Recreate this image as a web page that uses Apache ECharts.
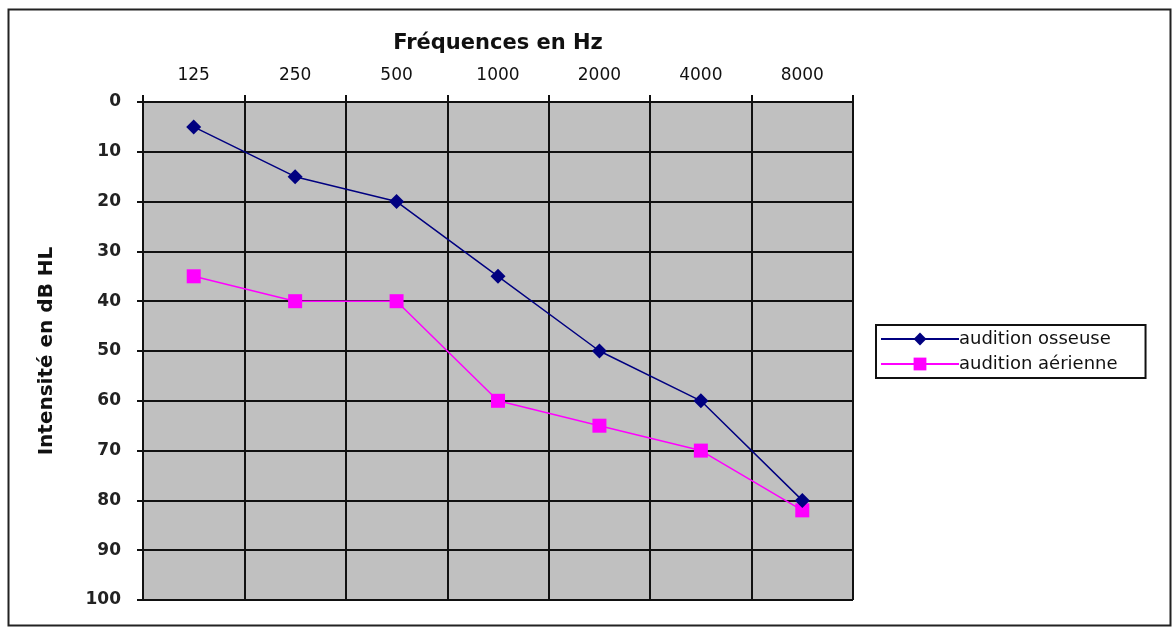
<!DOCTYPE html>
<html>
<head>
<meta charset="utf-8">
<script src="https://cdn.jsdelivr.net/npm/echarts@6/dist/echarts.min.js"></script>
<style>
  html, body { margin: 0; padding: 0; background: #fff; }
  #audiogram { width: 1174px; height: 630px; }
</style>
</head>
<body>
<div id="audiogram"></div>
<script>
var frequencies = ['125', '250', '500', '1000', '2000', '4000', '8000'];
var osseuse = [5, 15, 20, 35, 50, 60, 80];
var aerienne = [35, 40, 40, 60, 65, 70, 82];
var intensityTicks = { min: 0, max: 100, interval: 10 };

var chartDom = document.getElementById('audiogram');
var myChart = echarts.init(chartDom);
var labelFont = 'DejaVu Sans';

var option = {
    backgroundColor: '#fff',
    animation: false,
    graphic: [
      {
        type: 'rect',
        left: 6,
        top: 7,
        shape: { width: 1162, height: 616 },
        style: { fill: 'none', stroke: '#222', lineWidth: 2 }
      }
    ],
    grid: {
      left: 143,
      right: 321,
      top: 102,
      bottom: 30,
      show: true,
      backgroundColor: '#c0c0c0',
      borderWidth: 0
    },
    legend: {
      orient: 'vertical',
      left: 876,
      top: 325,
      padding: [5, 28, 5, 4],
      itemGap: 7,
      itemWidth: 78,
      itemHeight: 16,
      backgroundColor: '#fff',
      borderColor: '#111',
      borderWidth: 2,
      borderRadius: 0,
      textStyle: { fontFamily: labelFont, fontSize: 18, color: '#111', padding: [0, 0, 0, -5] },
      data: ['audition osseuse', 'audition aérienne']
    },
    xAxis: {
      type: 'category',
      position: 'top',
      data: frequencies,
      boundaryGap: true,
      name: 'Fréquences en Hz',
      nameLocation: 'middle',
      nameGap: 48,
      nameTextStyle: { fontFamily: labelFont, fontSize: 21, fontWeight: 'bold', color: '#111' },
      axisLine: { lineStyle: { color: '#111', width: 2 } },
      axisTick: { show: true, length: 7, lineStyle: { color: '#111', width: 2 } },
      axisLabel: { fontFamily: labelFont, fontSize: 17, color: '#111', margin: 18 },
      splitLine: { show: true, interval: 0, lineStyle: { color: '#111', width: 2 } }
    },
    yAxis: {
      type: 'value',
      inverse: true,
      min: intensityTicks.min,
      max: intensityTicks.max,
      interval: intensityTicks.interval,
      name: 'Intensité en dB HL',
      nameLocation: 'middle',
      nameRotate: 90,
      nameGap: 86,
      nameTextStyle: { fontFamily: labelFont, fontSize: 20, fontWeight: 'bold', color: '#111' },
      axisLine: { show: true, lineStyle: { color: '#111', width: 2 } },
      axisTick: { show: true, length: 6, lineStyle: { color: '#111', width: 2 } },
      axisLabel: { fontFamily: labelFont, fontSize: 17, fontWeight: 'bold', color: '#222', margin: 22 },
      splitLine: { show: true, lineStyle: { color: '#111', width: 2 } }
    },
    series: [
      {
        name: 'audition osseuse',
        type: 'line',
        data: osseuse,
        symbol: 'diamond',
        symbolSize: 15,
        itemStyle: { color: '#000080' },
        lineStyle: { color: '#000080', width: 1.5 },
        z: 3
      },
      {
        name: 'audition aérienne',
        type: 'line',
        data: aerienne,
        symbol: 'rect',
        symbolSize: 14,
        itemStyle: { color: '#ff00ff' },
        lineStyle: { color: '#ff00ff', width: 1.5 },
        z: 2
      }
    ]
};
myChart.setOption(option);
</script>
</body>
</html>
